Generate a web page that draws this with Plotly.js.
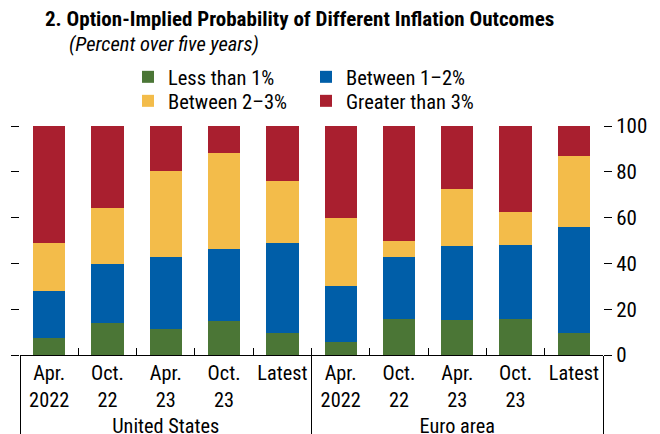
<!DOCTYPE html>
<html>
<head>
<meta charset="utf-8">
<script src="https://cdn.plot.ly/plotly-3.0.1.min.js"></script>
<style>html,body{margin:0;padding:0;background:#fff;}#chart{width:660px;height:434px;}</style>
</head>
<body>
<div id="chart"></div>
<script>
var regions = ["United States","United States","United States","United States","United States",
               "Euro area","Euro area","Euro area","Euro area","Euro area"];
var periods = ["Apr.<br>2022","Oct.<br>22","Apr.<br>23","Oct.<br>23","Latest",
               "Apr.<br>2022","Oct.<br>22","Apr.<br>23","Oct.<br>23","Latest"];
var seriesNames = ["Less than 1%","Between 1\u20132%","Between 2\u20133%","Greater than 3%"];
var lessThan1 = [7.5, 14.0, 11.3, 14.9, 9.7, 5.8, 15.7, 15.4, 15.7, 9.7];
var between1to2 = [20.3, 25.7, 31.7, 31.3, 39.4, 24.3, 27.1, 32.1, 32.3, 46.1];
var between2to3 = [21.3, 24.3, 37.4, 42.2, 26.7, 29.6, 6.9, 24.8, 14.3, 30.9];
var greaterThan3 = [50.9, 36.0, 19.6, 11.6, 24.2, 40.3, 50.3, 27.7, 37.7, 13.3];
var yTicks = [0, 20, 40, 60, 80, 100];

var colors = ["#4B7636", "#005EA8", "#F3BC4A", "#A91F2F"];
var values = [lessThan1, between1to2, between2to3, greaterThan3];
var legendIds = ["legend", "legend", "legend2", "legend2"];
var FONT = "'Roboto Condensed', 'DejaVu Sans Condensed', sans-serif";

var traces = values.map(function (v, i) {
  return {
    type: "bar",
    x: [regions, periods],
    y: v,
    name: seriesNames[i],
    marker: {color: colors[i], line: {width: 0}},
    legend: legendIds[i],
    hoverinfo: "skip"
  };
});
traces.push({type:"scatter", x:[regions, periods], y: lessThan1, yaxis:"y2", mode:"none", showlegend:false, hoverinfo:"skip"});

var layout = {
  width: 660, height: 434,
  margin: {l: 20, r: 57, t: 126, b: 79},
  barmode: "stack",
  bargap: 0.446,
  paper_bgcolor: "#fff", plot_bgcolor: "#fff",
  font: {family: FONT, size: 21, color: "#000"},
  showlegend: true,
  title: {
    text: "<b>2. Option-Implied Probability of Different Inflation Outcomes</b>",
    xref: "container", x: 45/660, xanchor: "left",
    yref: "container", y: 1 - 19/434, yanchor: "middle",
    font: {family: FONT, size: 21, color: "#000"}
  },
  annotations: [{
    text: "<i>(Percent over five years)</i>",
    xref: "paper", x: (67-20)/583, xanchor: "left",
    yref: "paper", y: (355-44)/229, yanchor: "middle",
    showarrow: false, font: {family: FONT, size: 20.5, color: "#000"}
  }],
  legend: {
    orientation: "h", x: (128-20)/583, xanchor: "left",
    y: (355-77)/229, yanchor: "middle",
    entrywidth: 133, entrywidthmode: "pixels",
    font: {family: FONT, size: 20.5}, bgcolor: "rgba(0,0,0,0)",
    traceorder: "normal", itemclick: false
  },
  legend2: {
    orientation: "h", x: (128-20)/583, xanchor: "left",
    y: (355-101)/229, yanchor: "middle",
    entrywidth: 133, entrywidthmode: "pixels",
    font: {family: FONT, size: 20.5}, bgcolor: "rgba(0,0,0,0)",
    traceorder: "normal", itemclick: false
  },
  xaxis: {
    type: "multicategory",
    showline: true, linecolor: "#000", linewidth: 1,
    ticks: "inside", ticklen: 7, tickcolor: "#000", tickson: "boundaries",
    showdividers: true, dividercolor: "#000", dividerwidth: 1,
    tickangle: 0,
    tickfont: {family: FONT, size: 20.3},
    showgrid: false, zeroline: false
  },
  yaxis: {
    side: "right", range: [0, 100], tickvals: yTicks, ticktext: yTicks.map(String),
    ticks: "outside", ticklen: 8, tickcolor: "#000",
    showgrid: false, zeroline: false, showline: false,
    tickfont: {family: FONT, size: 21}
  },
  yaxis2: {
    overlaying: "y", side: "left", range: [0, 100], tickvals: yTicks,
    ticks: "outside", ticklen: 8, tickcolor: "#000",
    showticklabels: false, showgrid: false, zeroline: false, showline: false
  }
};

Plotly.newPlot("chart", traces, layout, {displayModeBar: false, staticPlot: true});
</script>
</body>
</html>
